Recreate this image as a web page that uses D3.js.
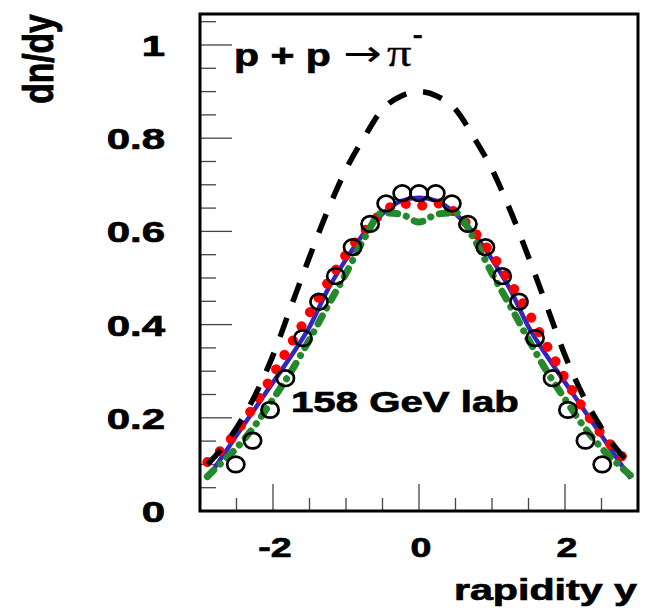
<!DOCTYPE html>
<html>
<head>
<meta charset="utf-8">
<script src="https://cdn.jsdelivr.net/npm/d3@7"></script>
<style>
  html, body { margin: 0; padding: 0; background: #fff; }
  svg { display: block; }
  text { font-family: "Liberation Sans", Arial, Helvetica, sans-serif; font-weight: bold; fill: #000; stroke: #000; stroke-width: 0.7px; }
</style>
</head>
<body>
<script>
// ---------- data ----------
const curveRapidity = [-2.9,-2.75,-2.5,-2.25,-2.0,-1.75,-1.5,-1.25,-1.0,-0.75,-0.5,-0.25,0,0.25,0.5,0.75,1.0,1.25,1.5,1.75,2.0,2.25,2.5,2.75,2.9];
const blackDashed = [0.100,0.125,0.178,0.247,0.334,0.440,0.545,0.645,0.733,0.802,0.862,0.890,0.900,0.890,0.862,0.802,0.733,0.645,0.545,0.440,0.334,0.247,0.178,0.125,0.100];
const blueSolid   = [0.070,0.104,0.162,0.219,0.276,0.333,0.395,0.475,0.540,0.597,0.638,0.665,0.672,0.665,0.638,0.597,0.540,0.475,0.395,0.333,0.276,0.219,0.162,0.104,0.070];
const redDotted   = [0.105,0.125,0.170,0.228,0.293,0.360,0.425,0.490,0.550,0.600,0.640,0.660,0.655,0.660,0.640,0.600,0.550,0.490,0.425,0.355,0.285,0.220,0.165,0.122,0.100];
const greenDashDot= [0.074,0.097,0.135,0.183,0.240,0.300,0.368,0.440,0.510,0.585,0.640,0.637,0.620,0.637,0.640,0.585,0.510,0.440,0.368,0.300,0.240,0.183,0.135,0.097,0.076];

const dataRapidity = [-2.51,-2.28,-2.04,-1.83,-1.59,-1.37,-1.14,-0.91,-0.67,-0.45,-0.23,0,0.23,0.45,0.67,0.91,1.14,1.37,1.59,1.83,2.04,2.28,2.51];
const dataDnDy     = [0.100,0.151,0.217,0.285,0.371,0.449,0.504,0.566,0.616,0.660,0.682,0.682,0.682,0.660,0.616,0.566,0.504,0.449,0.371,0.285,0.217,0.151,0.100];

const xMajorTicks = [-2, 0, 2];
const xMinorTicks = [-2.5,-1.5,-1,-0.5,0.5,1,1.5,2.5];
const yMajorTicks = [0, 0.2, 0.4, 0.6, 0.8, 1];
const yMinorTicks = [0.05,0.1,0.15,0.25,0.3,0.35,0.45,0.5,0.55,0.65,0.7,0.75,0.85,0.9,0.95,1.05];
const xTickLabels = ["-2", "0", "2"];
const yTickLabels = ["0", "0.2", "0.4", "0.6", "0.8", "1"];

// ---------- layout ----------
const W = 647, H = 612;
const L = 200, R = 638, T = 14, B = 511;
const SX = 1.34; // horizontal stretch of the text in the original

const svg = d3.select("body").append("svg").attr("width", W).attr("height", H);
svg.append("rect").attr("width", W).attr("height", H).attr("fill", "#fff");

const x = d3.scaleLinear().domain([-3, 3]).range([L, R]);
const y = d3.scaleLinear().domain([0, 1.0665]).range([B, T]);

svg.append("clipPath").attr("id", "clip").append("rect")
  .attr("x", L).attr("y", T).attr("width", R - L).attr("height", B - T);

// ticks (inside frame)
const tickG = svg.append("g").attr("stroke", "#444").attr("stroke-width", 1.3);
tickG.selectAll(".ymaj").data(yMajorTicks).join("line")
  .attr("x1", L).attr("x2", L + 32).attr("y1", d => y(d)).attr("y2", d => y(d));
tickG.selectAll(".ymin").data(yMinorTicks).join("line")
  .attr("x1", L).attr("x2", L + 16).attr("y1", d => y(d)).attr("y2", d => y(d));
tickG.selectAll(".xmaj").data(xMajorTicks).join("line")
  .attr("x1", d => x(d)).attr("x2", d => x(d)).attr("y1", B).attr("y2", B - 27);
tickG.selectAll(".xmin").data(xMinorTicks).join("line")
  .attr("x1", d => x(d)).attr("x2", d => x(d)).attr("y1", B).attr("y2", B - 13);

// curves
const plot = svg.append("g").attr("clip-path", "url(#clip)");
function series(vals) { return curveRapidity.map((r, i) => [r, vals[i]]); }
const line = d3.line().x(d => x(d[0])).y(d => y(d[1])).curve(d3.curveMonotoneX);

plot.append("path").datum(series(blueSolid)).attr("d", line)
  .attr("fill", "none").attr("stroke", "#3524c4").attr("stroke-width", 4.5);
plot.append("path").datum(series(redDotted)).attr("d", line)
  .attr("fill", "none").attr("stroke", "#ff0000").attr("stroke-width", 10)
  .attr("stroke-linecap", "round").attr("stroke-dasharray", "0.1,16.5");
plot.append("path").datum(series(greenDashDot)).attr("d", line)
  .attr("fill", "none").attr("stroke", "#24892a").attr("stroke-width", 7)
  .attr("stroke-linecap", "round").attr("stroke-dasharray", "9,9,0.1,9");
plot.append("path").datum(series(blackDashed)).attr("d", line)
  .attr("fill", "none").attr("stroke", "#000").attr("stroke-width", 5.5)
  .attr("stroke-dasharray", "20,17");

// data points
plot.selectAll(".pt").data(dataRapidity.map((r, i) => [r, dataDnDy[i]])).join("ellipse")
  .attr("cx", d => x(d[0])).attr("cy", d => y(d[1]))
  .attr("rx", 8.6).attr("ry", 7.8)
  .attr("fill", "none").attr("stroke", "#000").attr("stroke-width", 2.7);

// frame
svg.append("rect").attr("x", L).attr("y", T).attr("width", R - L).attr("height", B - T)
  .attr("fill", "none").attr("stroke", "#000").attr("stroke-width", 3);

// tick labels
function sText(px, py, str, size, anchor, sx) {
  return svg.append("text")
    .attr("transform", `translate(${px},${py}) scale(${sx || SX},1)`)
    .attr("text-anchor", anchor).attr("font-size", size).text(str);
}
yMajorTicks.forEach((v, i) => sText(165, y(v) + 11, yTickLabels[i], 30, "end", 1.4));
xMajorTicks.forEach((v, i) => sText(x(v) + 2, 557, xTickLabels[i], 28, "middle"));

// axis titles
sText(637, 600, "rapidity y", 29, "end", 1.42);
svg.append("text")
  .attr("transform", "translate(53,59) rotate(-90) scale(1.05,1.3)")
  .attr("text-anchor", "middle").attr("font-size", 32).text("dn/dy");

// annotations
const ann = svg.append("text")
  .attr("transform", `translate(234,66) scale(1.28,1)`)
  .attr("font-size", 32);
ann.append("tspan").text("p + p ");
ann.append("tspan").attr("font-weight", "normal").attr("font-family", "DejaVu Sans")
  .attr("stroke-width", 0).attr("font-size", 36).attr("dx", 1).text("\u2192");
ann.append("tspan").attr("font-weight", "normal").attr("font-family", "Liberation Serif")
  .attr("stroke-width", 0.3).attr("font-size", 38).attr("dx", 4).text("\u03C0");
ann.append("tspan").attr("dy", -24).attr("dx", 1).attr("font-size", 22).text("-");

sText(291, 412, "158 GeV lab", 30, "start");
</script>
</body>
</html>
